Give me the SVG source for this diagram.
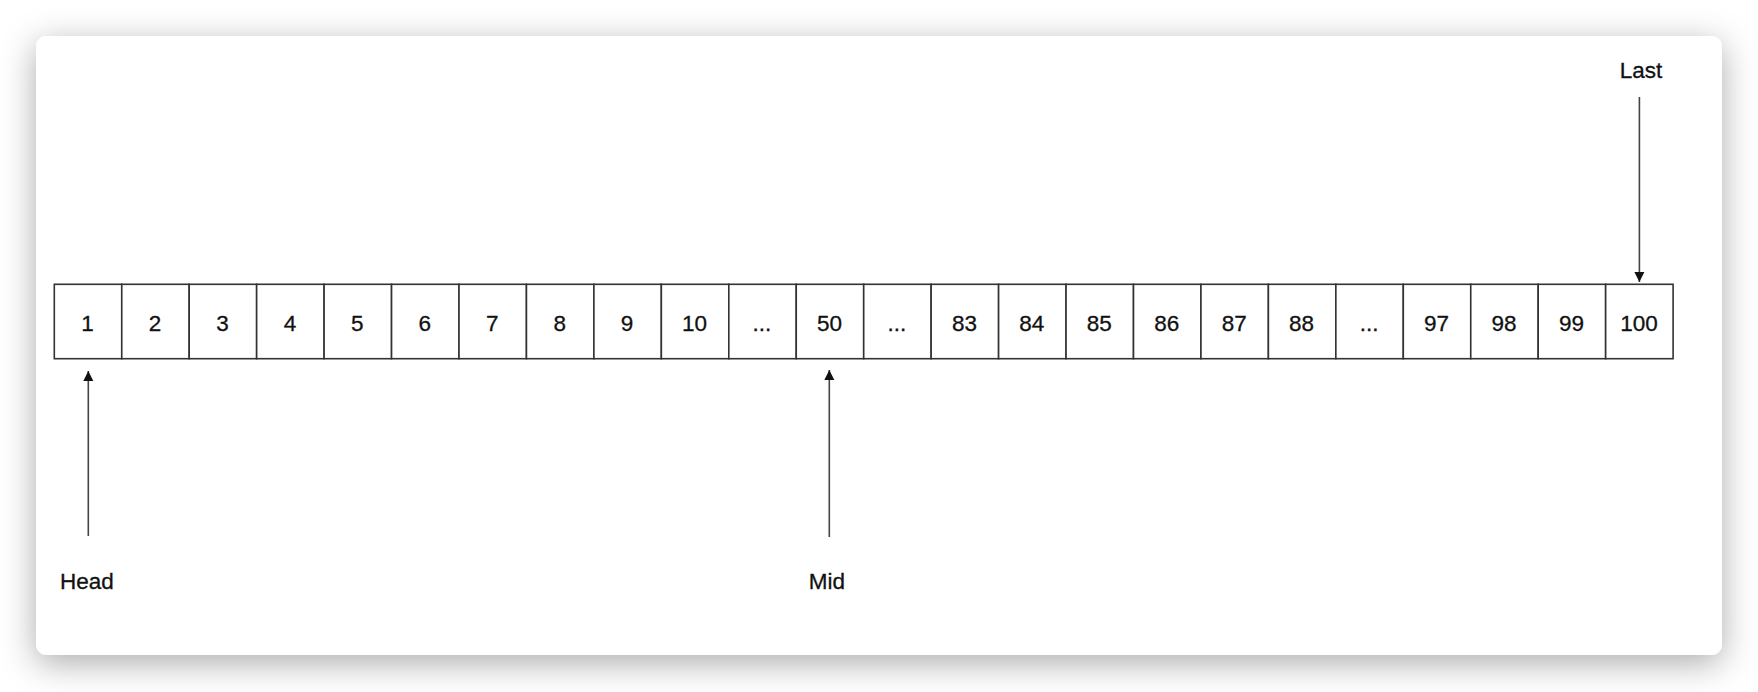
<svg xmlns="http://www.w3.org/2000/svg" width="1758" height="692" viewBox="0 0 1758 692">
<defs>
<filter id="sh" x="-10%" y="-20%" width="120%" height="150%">
<feDropShadow dx="0" dy="8" stdDeviation="17" flood-color="#000" flood-opacity="0.33"/>
</filter>
<marker id="ah" viewBox="0 0 10 12" refX="10" refY="6" markerWidth="10" markerHeight="12" markerUnits="userSpaceOnUse" orient="auto">
<path d="M0,1 L10,6 L0,11 Z" fill="#111"/>
</marker>
<style>
.cell{fill:#fff;stroke:#333;stroke-width:1.6}
.t{font-family:"Liberation Sans",Arial,sans-serif;font-size:22.5px;fill:#111;stroke:#111;stroke-width:0.3;text-anchor:middle}
.c{stroke:#444;stroke-width:1.6;fill:none;marker-end:url(#ah)}
</style>
</defs>
<rect width="1758" height="692" fill="#fff"/>
<rect id="card" x="36" y="36" width="1686" height="619" rx="11" fill="#fff" filter="url(#sh)"/>
<g id="cells">
<g id="c0"><rect class="cell" x="54.3" y="284.3" width="67.45" height="74.4"/><text class="t" x="87.5" y="331">1</text></g>
<g id="c1"><rect class="cell" x="121.75" y="284.3" width="67.45" height="74.4"/><text class="t" x="155" y="331">2</text></g>
<g id="c2"><rect class="cell" x="189.2" y="284.3" width="67.45" height="74.4"/><text class="t" x="222.4" y="331">3</text></g>
<g id="c3"><rect class="cell" x="256.65" y="284.3" width="67.45" height="74.4"/><text class="t" x="289.9" y="331">4</text></g>
<g id="c4"><rect class="cell" x="324.1" y="284.3" width="67.45" height="74.4"/><text class="t" x="357.3" y="331">5</text></g>
<g id="c5"><rect class="cell" x="391.55" y="284.3" width="67.45" height="74.4"/><text class="t" x="424.8" y="331">6</text></g>
<g id="c6"><rect class="cell" x="459.0" y="284.3" width="67.45" height="74.4"/><text class="t" x="492.2" y="331">7</text></g>
<g id="c7"><rect class="cell" x="526.45" y="284.3" width="67.45" height="74.4"/><text class="t" x="559.7" y="331">8</text></g>
<g id="c8"><rect class="cell" x="593.9" y="284.3" width="67.45" height="74.4"/><text class="t" x="627.1" y="331">9</text></g>
<g id="c9"><rect class="cell" x="661.35" y="284.3" width="67.45" height="74.4"/><text class="t" x="694.6" y="331">10</text></g>
<g id="c10"><rect class="cell" x="728.8" y="284.3" width="67.45" height="74.4"/><text class="t" x="762" y="331" fill="#555" stroke="none">...</text></g>
<g id="c11"><rect class="cell" x="796.25" y="284.3" width="67.45" height="74.4"/><text class="t" x="829.5" y="331">50</text></g>
<g id="c12"><rect class="cell" x="863.7" y="284.3" width="67.45" height="74.4"/><text class="t" x="896.9" y="331" fill="#555" stroke="none">...</text></g>
<g id="c13"><rect class="cell" x="931.15" y="284.3" width="67.45" height="74.4"/><text class="t" x="964.4" y="331">83</text></g>
<g id="c14"><rect class="cell" x="998.6" y="284.3" width="67.45" height="74.4"/><text class="t" x="1031.8" y="331">84</text></g>
<g id="c15"><rect class="cell" x="1066.05" y="284.3" width="67.45" height="74.4"/><text class="t" x="1099.3" y="331">85</text></g>
<g id="c16"><rect class="cell" x="1133.5" y="284.3" width="67.45" height="74.4"/><text class="t" x="1166.7" y="331">86</text></g>
<g id="c17"><rect class="cell" x="1200.95" y="284.3" width="67.45" height="74.4"/><text class="t" x="1234.2" y="331">87</text></g>
<g id="c18"><rect class="cell" x="1268.4" y="284.3" width="67.45" height="74.4"/><text class="t" x="1301.6" y="331">88</text></g>
<g id="c19"><rect class="cell" x="1335.85" y="284.3" width="67.45" height="74.4"/><text class="t" x="1369.1" y="331" fill="#555" stroke="none">...</text></g>
<g id="c20"><rect class="cell" x="1403.3" y="284.3" width="67.45" height="74.4"/><text class="t" x="1436.5" y="331">97</text></g>
<g id="c21"><rect class="cell" x="1470.75" y="284.3" width="67.45" height="74.4"/><text class="t" x="1504" y="331">98</text></g>
<g id="c22"><rect class="cell" x="1538.2" y="284.3" width="67.45" height="74.4"/><text class="t" x="1571.4" y="331">99</text></g>
<g id="c23"><rect class="cell" x="1605.65" y="284.3" width="67.45" height="74.4"/><text class="t" x="1638.9" y="331">100</text></g>
</g>
<g id="head"><text class="t" x="87" y="589">Head</text></g>
<g id="mid"><text class="t" x="827" y="589">Mid</text></g>
<g id="last"><text class="t" x="1641" y="78">Last</text></g>
<g id="connectors">
<line class="c" x1="88.3" y1="536" x2="88.3" y2="371"/>
<line class="c" x1="829.3" y1="537" x2="829.3" y2="370"/>
<line class="c" x1="1639.4" y1="97" x2="1639.4" y2="282"/>
</g>
</svg>
